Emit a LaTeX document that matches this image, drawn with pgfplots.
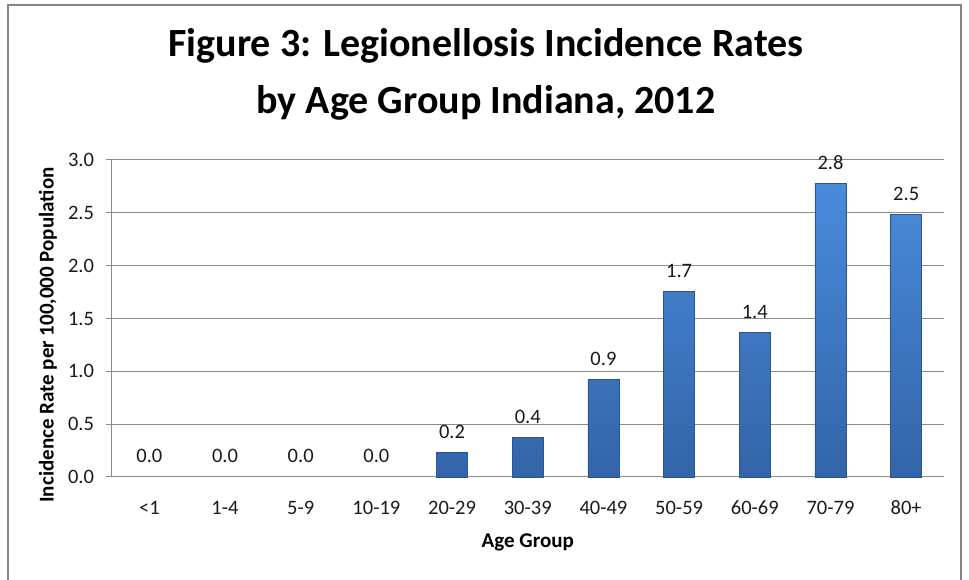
\documentclass[border=0pt]{standalone}
\usepackage{pgfplots}
\usepackage{pgfplotstable}
\pgfplotsset{compat=1.18}
\usepackage{fontspec}
\setmainfont{Carlito}
\definecolor{gridc}{HTML}{8C8C8C}
\definecolor{framec}{HTML}{868686}
\definecolor{bartop}{HTML}{4A8BDA}
\definecolor{barbot}{HTML}{3364A8}
\definecolor{baredge}{HTML}{2A5590}
\definecolor{txt}{HTML}{1A1A1A}

\pgfplotstableread{
x y lab
4.5 0.234 0.2
5.5 0.376 0.4
6.5 0.924 0.9
7.5 1.755 1.7
8.5 1.369 1.4
9.5 2.779 2.8
10.5 2.485 2.5
}\bardata
\pgfplotstableread{
x y lab
0.5 0 0.0
1.5 0 0.0
2.5 0 0.0
3.5 0 0.0
}\zerodata

\begin{document}
\begin{tikzpicture}
\useasboundingbox (0pt,0pt) rectangle (969pt,580pt);
\draw[framec, line width=1.8pt] (8pt,-5pt) -- (8pt,575pt) -- (961pt,575pt) -- (961pt,-5pt);
\node[font=\fontsize{40}{48}\selectfont\bfseries, anchor=base, text=black] at (486pt,523pt) {Figure 3: Legionellosis Incidence Rates};
\node[font=\fontsize{40}{48}\selectfont\bfseries, anchor=base, text=black] at (486pt,466pt) {by Age Group Indiana, 2012};
\begin{axis}[
  at={(111.5pt,103pt)}, anchor=south west,
  scale only axis, width=832.5pt, height=317pt,
  xmin=0, xmax=11, ymin=0, ymax=3,
  clip=false,
  axis x line*=bottom, axis y line*=left,
  axis line style={gridc, line width=1pt},
  ymajorgrids, grid style={gridc, line width=1pt},
  ytick={0,0.5,1,1.5,2,2.5,3},
  xtick={0.5,1.5,2.5,3.5,4.5,5.5,6.5,7.5,8.5,9.5,10.5},
  xticklabels={<1,1-4,5-9,10-19,20-29,30-39,40-49,50-59,60-69,70-79,80+},
  minor xtick={0,1,2,3,4,5,6,7,8,9,10,11},
  xtick style={draw=none},
  ytick style={gridc, line width=1pt},
  minor tick style={gridc, line width=1pt},
  tick align=outside,
  major tick length=6pt, minor tick length=7pt,
  /pgf/number format/assume math mode=true,
  yticklabel style={/pgf/number format/fixed, /pgf/number format/fixed zerofill, /pgf/number format/precision=1,
    font=\fontsize{20.5}{24}\selectfont, text=txt, xshift=-8pt},
  xticklabel style={font=\fontsize{20.5}{24}\selectfont, text=txt, anchor=base, yshift=-32pt},
  xlabel={Age Group},
  xlabel style={font=\fontsize{21}{25}\selectfont\bfseries, text=black, at={(axis description cs:0.5,0)}, anchor=base, yshift=-71pt},
  ylabel={Incidence Rate per 100,000 Population},
  ylabel style={font=\fontsize{21}{25}\selectfont\bfseries, text=black, at={(axis description cs:-0.0763,0.448)}, anchor=center},
  point meta=explicit symbolic,
  nodes near coords,
  every node near coord/.append style={anchor=base, inner sep=0pt, yshift=14pt, font=\fontsize{20.5}{24}\selectfont, text=txt},
]
\addplot[ybar, bar width=31pt, draw=baredge, line width=0.6pt, top color=bartop, bottom color=barbot]
  table[x=x, y=y, meta=lab] {\bardata};
\addplot[draw=none, mark=none] table[x=x, y=y, meta=lab] {\zerodata};
\end{axis}
\end{tikzpicture}
\end{document}
